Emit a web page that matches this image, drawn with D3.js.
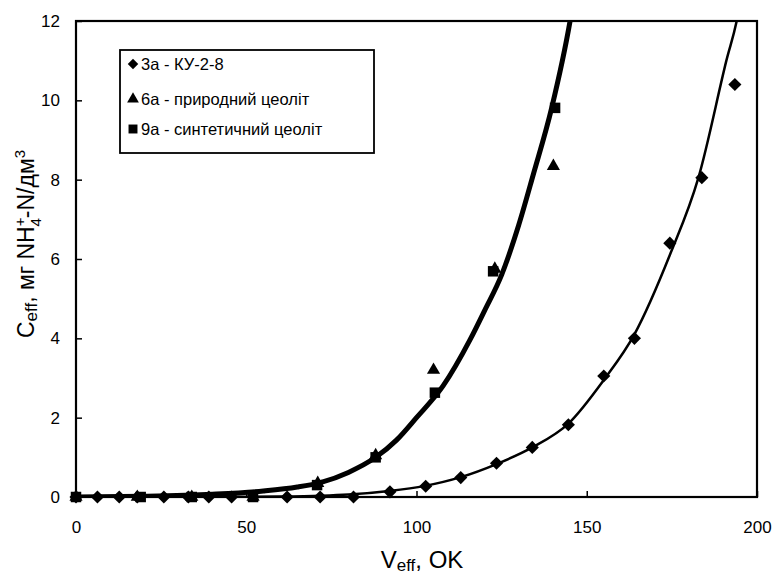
<!DOCTYPE html>
<html>
<head>
<meta charset="utf-8">
<script src="https://cdn.jsdelivr.net/npm/d3@7"></script>
<style>
body{margin:0;background:#fff;}
svg{display:block;font-family:"Liberation Sans",Arial,sans-serif;}
</style>
</head>
<body>
<svg id="chart" width="776" height="579"></svg>
<script>
// ---- data ----
const xTicks = [0, 50, 100, 150, 200];
const yTicks = [0, 2, 4, 6, 8, 10, 12];

const seriesNames = ["3а - КУ-2-8", "6а - природний цеоліт", "9а - синтетичний цеоліт"];

const s3aX = [0, 6.3, 12.7, 18, 25.8, 33, 39, 45.7, 62, 71.7, 81.5, 92.2, 102.7, 113, 123.5, 134, 144.6, 155, 164, 174.4, 183.8, 193.5];
const s3aY = [0, 0, 0, 0, 0, 0, 0, 0, 0, 0, 0, 0.13, 0.27, 0.49, 0.85, 1.25, 1.82, 3.05, 4.0, 6.4, 8.05, 10.4];

const s6aX = [0, 18, 34, 52, 71, 88, 105, 123, 140.2];
const s6aY = [0, 0, 0, 0, 0.35, 1.05, 3.2, 5.75, 8.34];

const s9aX = [0, 19, 34, 52, 70.8, 88, 105.4, 122.5, 140.7];
const s9aY = [0, 0, 0, 0, 0.3, 1.0, 2.63, 5.69, 9.81];

// fitted curves
const fitThickX = [0, 20, 40, 55, 65, 72, 80, 88, 94.2, 100, 107.8, 115.7, 120, 125, 130, 134.3, 139.7, 145.1, 147];
const fitThickY = [0, 0.02, 0.07, 0.15, 0.25, 0.37, 0.62, 1.0, 1.44, 2.0, 2.8, 3.96, 4.7, 5.6, 6.85, 8.13, 9.81, 12, 13];
const fitThinX = [0, 40, 60, 72, 80, 92, 102.5, 113, 123.5, 134, 144.6, 155, 164, 174.4, 182.8, 191, 194.5, 196];
const fitThinY = [0, 0.0, 0.01, 0.03, 0.06, 0.15, 0.28, 0.5, 0.83, 1.25, 1.85, 2.95, 4.1, 6.1, 8.05, 11.0, 12.2, 13];

// ---- layout ----
const svg = d3.select("#chart");
const x = d3.scaleLinear().domain([0, 200]).range([76, 757]);
const y = d3.scaleLinear().domain([0, 12]).range([497, 21]);

svg.append("defs").append("clipPath").attr("id", "clip")
  .append("rect").attr("x", 76).attr("y", 21).attr("width", 681).attr("height", 476);

const zip = (xs, ys) => xs.map((v, i) => [v, ys[i]]);
const line = d3.line().x(d => x(d[0])).y(d => y(d[1])).curve(d3.curveMonotoneX);

const g = svg.append("g").attr("clip-path", "url(#clip)");
g.append("path").attr("d", line(zip(fitThickX, fitThickY)))
  .attr("fill", "none").attr("stroke", "#000").attr("stroke-width", 5);
g.append("path").attr("d", line(zip(fitThinX, fitThinY)))
  .attr("fill", "none").attr("stroke", "#000").attr("stroke-width", 2.5);

// markers
const diamond = d3.symbol().type(d3.symbolDiamond2).size(110);
const tri = d3.symbol().type(d3.symbolTriangle).size(75);
const sq = d3.symbol().type(d3.symbolSquare).size(110);

svg.append("g").selectAll("path").data(zip(s3aX, s3aY)).join("path")
  .attr("d", diamond).attr("transform", d => `translate(${x(d[0])},${y(d[1])})`).attr("fill", "#000");
svg.append("g").selectAll("path").data(zip(s6aX, s6aY)).join("path")
  .attr("d", tri).attr("transform", d => `translate(${x(d[0])},${y(d[1])})`).attr("fill", "#000");
svg.append("g").selectAll("path").data(zip(s9aX, s9aY)).join("path")
  .attr("d", sq).attr("transform", d => `translate(${x(d[0])},${y(d[1])})`).attr("fill", "#000");

// axes
const xAxis = svg.append("g").attr("transform", "translate(0,497)")
  .call(d3.axisBottom(x).tickValues(xTicks).tickSizeInner(-6).tickSizeOuter(0).tickPadding(24));
const yAxis = svg.append("g").attr("transform", "translate(76,0)")
  .call(d3.axisLeft(y).tickValues(yTicks).tickSizeInner(-6).tickSizeOuter(0).tickPadding(16));
[xAxis, yAxis].forEach(a => {
  a.select(".domain").remove();
  a.selectAll("line").attr("stroke", "#000").attr("stroke-width", 1.5);
  a.selectAll("text").attr("font-size", 17).attr("fill", "#000")
    .attr("font-family", "'Liberation Sans', Arial, sans-serif");
});

// frame
svg.append("rect").attr("x", 76).attr("y", 21).attr("width", 681).attr("height", 476)
  .attr("fill", "none").attr("stroke", "#000").attr("stroke-width", 2.2);

// axis titles
const xt = svg.append("text").attr("x", 422).attr("y", 568).attr("text-anchor", "middle")
  .attr("font-size", 24).attr("fill", "#000");
xt.append("tspan").text("V");
xt.append("tspan").attr("font-size", 17).attr("dy", 3).text("eff");
xt.append("tspan").attr("dy", -3).text(", OK");

const yt = svg.append("text").attr("transform", "translate(34,244) rotate(-90)")
  .attr("text-anchor", "middle").attr("font-size", 23).attr("fill", "#000");
yt.append("tspan").text("C");
yt.append("tspan").attr("font-size", 17).attr("dy", 3).text("eff");
yt.append("tspan").attr("dy", -3).text(", мг NH");
yt.append("tspan").attr("font-size", 15).attr("dy", -9).text("+");
yt.append("tspan").attr("font-size", 15).attr("dx", -9).attr("dy", 16).text("4");
yt.append("tspan").attr("dy", -7).text("-N/дм");
yt.append("tspan").attr("font-size", 15).attr("dy", -9).text("3");

// legend
const lg = svg.append("g");
lg.append("rect").attr("x", 120).attr("y", 50).attr("width", 254).attr("height", 103)
  .attr("fill", "#fff").attr("stroke", "#000").attr("stroke-width", 1.8);
const legSyms = [d3.symbol().type(d3.symbolDiamond2).size(70), d3.symbol().type(d3.symbolTriangle).size(60), d3.symbol().type(d3.symbolSquare).size(80)];
const legY = [64, 99, 129];
seriesNames.forEach((name, i) => {
  lg.append("path").attr("d", legSyms[i]).attr("transform", `translate(133,${legY[i]})`).attr("fill", "#000");
  lg.append("text").attr("x", 141).attr("y", legY[i]).attr("dy", "0.35em")
    .attr("font-size", 16.5).attr("fill", "#000").text(name);
});
</script>
</body>
</html>
